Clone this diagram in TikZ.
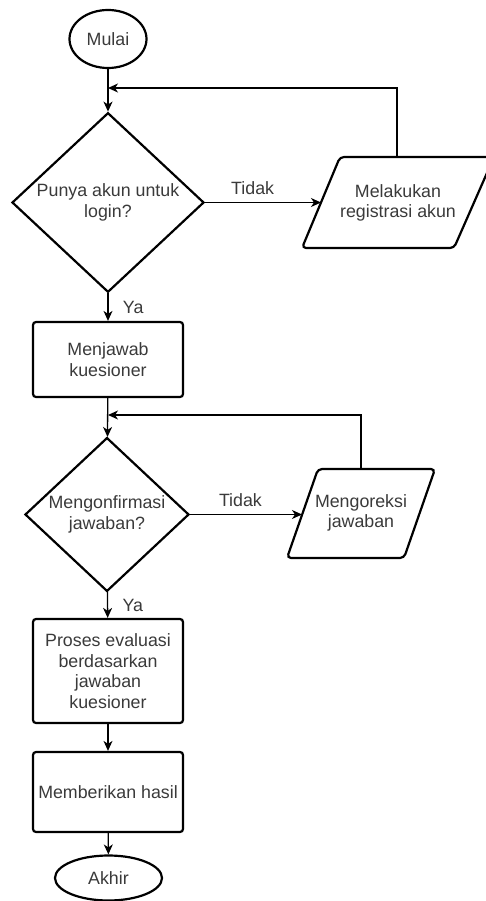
\documentclass[tikz,border=0pt]{standalone}
\usepackage{fontspec}
\setmainfont{Liberation Sans}
\usetikzlibrary{shapes.geometric,arrows.meta}
\definecolor{txt}{HTML}{3A3A3A}
\tikzset{
  shapeline/.style={draw=black, line width=2.2pt},
  lbl/.style={font=\fontsize{17.8}{20.5}\selectfont, text=txt, align=center},
  term/.style={shapeline, lbl, ellipse, inner sep=0pt},
  decision/.style={shapeline, lbl, diamond, inner sep=0pt},
  process/.style={shapeline, lbl, rectangle, rounded corners=3pt, inner sep=0pt},
  flow/.style={draw=black, line width=1.3pt, -{Stealth[length=10pt,width=9pt,inset=3pt]}},
  edgelbl/.style={font=\fontsize{17.8}{20}\selectfont, text=txt}
}
\begin{document}
\begin{tikzpicture}[x=1pt,y=-1pt]
\useasboundingbox (0,0) rectangle (485,901);

% nodes
\node[term, minimum width=77pt, minimum height=58pt] (mulai) at (108,39) {Mulai};
\node[decision, minimum width=192pt, minimum height=177pt] (d1) at (108,202.5) {Punya akun untuk\\login?};
\draw[shapeline, rounded corners=4pt] (340,157) -- (494,157) -- (454,248) -- (302,248) -- cycle;
\node[lbl] (p1) at (398,203) {Melakukan\\registrasi akun};
\coordinate (p1in) at (321,202.5);
\coordinate (p1top) at (397,157);

\node[process, minimum width=150pt, minimum height=75pt] (r1) at (108,359.5) {Menjawab\\kuesioner};
\node[decision, minimum width=164pt, minimum height=145pt] (d2) at (107,514.5) {Mengonfirmasi\\jawaban?};
\draw[shapeline, rounded corners=4pt] (318,469) -- (435,469) -- (404,558) -- (287,558) -- cycle;
\node[lbl] (p2) at (361,513) {Mengoreksi\\jawaban};
\coordinate (p2in) at (302,514.5);
\coordinate (p2top) at (361,469);

\node[process, minimum width=150pt, minimum height=104pt] (r2) at (108,671) {Proses evaluasi\\berdasarkan\\jawaban\\kuesioner};
\node[process, minimum width=150pt, minimum height=80pt] (r3) at (108,792) {Memberikan hasil};
\node[term, minimum width=107pt, minimum height=45pt] (akhir) at (108.5,878) {Akhir};

% join points
\coordinate (j1) at (108,88);
\coordinate (j2) at (108,415);

% connectors
\draw[flow] (mulai) -- (d1);
\draw[flow] (p1top) -- (397,88) -- (j1);
\draw[flow] (d1.east) -- node[edgelbl, pos=0.41, above=4pt] {Tidak} (p1in);
\draw[flow] (d1) -- node[edgelbl, pos=0.5, right=11pt] {Ya} (r1);
\draw[flow] (r1) -- (d2);
\draw[flow] (p2top) -- (361,415) -- (j2);
\draw[flow] (d2.east) -- node[edgelbl, pos=0.45, above=4pt] {Tidak} (p2in);
\draw[flow] (d2) -- node[edgelbl, pos=0.5, right=11pt] {Ya} (r2);
\draw[flow] (r2) -- (r3);
\draw[flow] (r3) -- (akhir);
\end{tikzpicture}
\end{document}
